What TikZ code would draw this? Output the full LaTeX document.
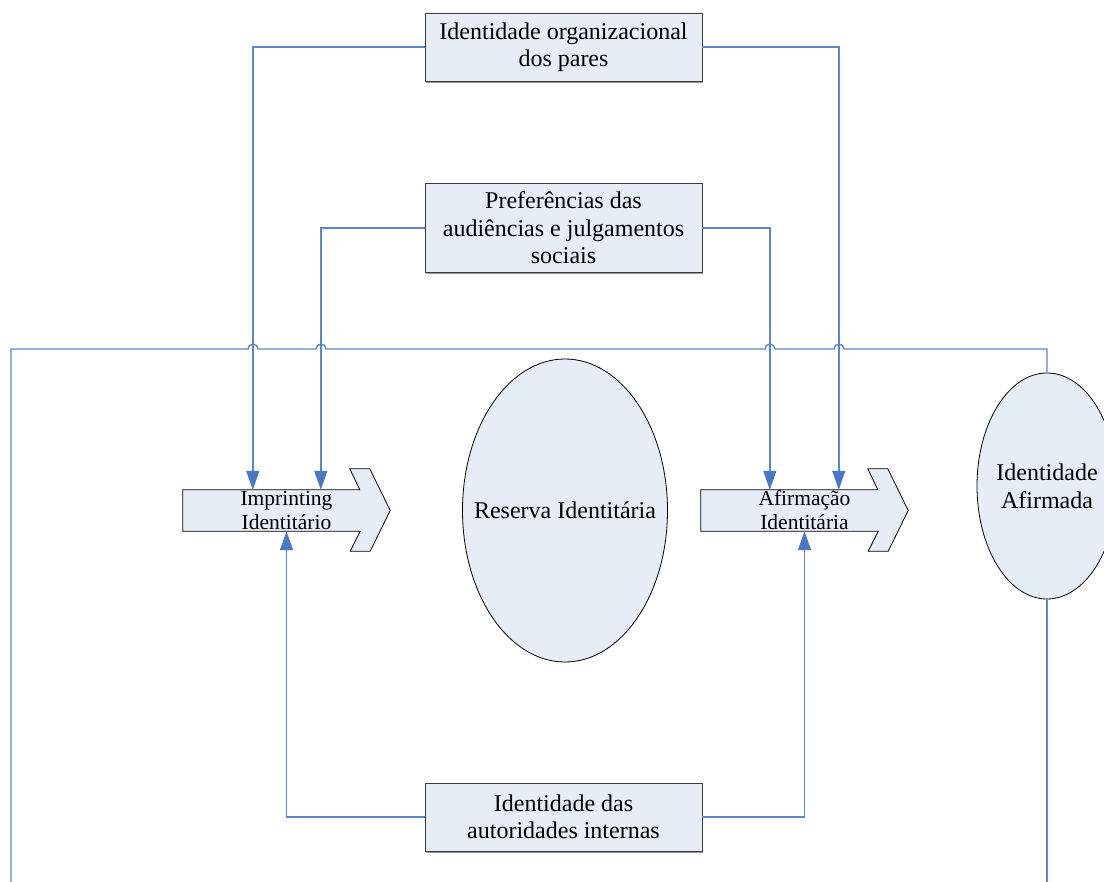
\documentclass[tikz,border=0pt]{standalone}
\usepackage{fontspec}
\setmainfont{Liberation Serif}
\usetikzlibrary{shapes.geometric,arrows.meta,calc,shadows}

\definecolor{linkblue}{HTML}{5B86C8}
\definecolor{tipblue}{HTML}{4A78C2}
\definecolor{shapefill}{HTML}{E7EDF7}
\definecolor{boxedge}{HTML}{3C3C3C}

\tikzset{
  factor/.style={draw=boxedge, line width=0.9pt, fill=shapefill,
    minimum width=277pt, inner sep=0pt, align=center,
    font=\fontsize{24}{27.5}\selectfont,
    drop shadow={shadow xshift=1.2pt, shadow yshift=-1.8pt, fill=gray!80, opacity=1}},
  stock/.style={ellipse, draw=black, line width=0.8pt, fill=shapefill,
    inner sep=0pt},
  stocklabel/.style={align=center, inner sep=0pt, font=\fontsize{24}{28}\selectfont},
  process/.style={minimum width=207pt, minimum height=41pt, inner sep=0pt,
    align=center, font=\fontsize{21.5}{24}\selectfont},
  link/.style={draw=linkblue, line width=1.4pt},
  feed/.style={link, -{Triangle[width=13pt,length=19pt,fill=tipblue,color=tipblue]}},
}

% block arrow drawn around a process node
\newcommand{\blockarrow}[1]{%
  \filldraw[draw=black, line width=0.8pt, fill=shapefill]
    (#1.north west) -- ++(177,0) -- ++(-10,-21) -- ++(20,0)
    -- ($(#1.east)$) -- ($(#1.south east)+(-20,20)$) -- ++(-20,0)
    -- ++(10,-20) -- (#1.south west) -- cycle;}

\begin{document}
\begin{tikzpicture}[x=1pt,y=-1pt]
  \useasboundingbox (0,0) rectangle (1104,882);
  \clip (0,0) rectangle (1104,882);

  % source factors
  \node[factor, minimum height=68pt] (pares) at (563.5,47)
    {Identidade organizacional\\dos pares};
  \node[factor, minimum height=89pt] (audiencias) at (563.5,228)
    {Preferências das\\audiências e julgamentos\\sociais};
  \node[factor, minimum height=68pt] (autoridades) at (563.5,817)
    {Identidade das\\autoridades internas};

  % processes (block arrows) and stocks
  \node[process] (imp) at (286.5,510.5) {};
  \node[process] (afi) at (804.5,510.5) {};
  \blockarrow{imp}
  \blockarrow{afi}
  \node[process] at (imp) {Imprinting\\Identitário};
  \node[process] at (afi) {Afirmação\\Identitária};

  \node[stock, minimum width=205pt, minimum height=303pt] (reserva) at (565,510.5) {};
  \node[stocklabel] at (reserva) {Reserva Identitária};
  \node[stock, minimum width=140pt, minimum height=226pt] (afirmada) at (1047,486) {};
  \node[stocklabel] at (afirmada) {Identidade\\Afirmada};

  % feedback loop leaving the page at the bottom
  \coordinate (loopL) at (11,890);
  \coordinate (loopR) at (1047,890);
  \draw[link] (afirmada.south) -- (loopR);
  \draw[link] (loopL) -- (11,349) -- (248,349) arc (180:360:5)
    -- (316,349) arc (180:360:5)
    -- (765,349) arc (180:360:5)
    -- (834,349) arc (180:360:5)
    -- (1047,349) -- (afirmada.north);

  % influences on the processes
  \draw[feed] (pares.west) -| ($(imp.north west)+(70,0)$);
  \draw[feed] (pares.east) -| ($(afi.north west)+(138,0)$);
  \draw[feed] (audiencias.west) -| ($(imp.north west)+(138,0)$);
  \draw[feed] (audiencias.east) -| ($(afi.north west)+(69,0)$);
  \draw[feed] (autoridades.west) -| (imp.south);
  \draw[feed] (autoridades.east) -| (afi.south);
\end{tikzpicture}
\end{document}
